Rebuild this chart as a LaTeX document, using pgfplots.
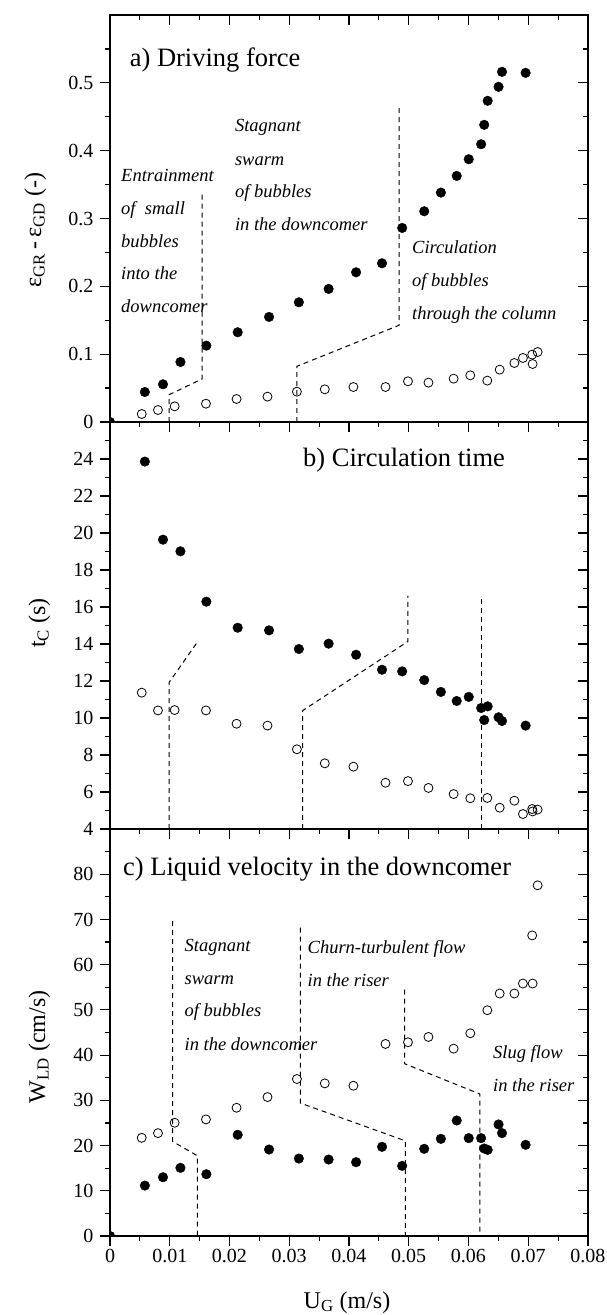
\documentclass[border=0pt]{standalone}
\usepackage{fontspec}
\setmainfont{Liberation Serif}
\usepackage{pgfplots}
\pgfplotsset{compat=1.18}
\newcommand{\tickfont}{\fontsize{20}{23}\selectfont}
\newcommand{\labfont}{\fontsize{24}{28}\selectfont}
\newcommand{\titfont}{\fontsize{26.5}{30}\selectfont}
\newcommand{\annfont}{\itshape\fontsize{18.5}{22}\selectfont}
\pgfplotsset{
  base/.style={width=478pt, height=407pt, scale only axis, xmin=0, xmax=0.08,
    clip marker paths=true,
    axis line style={line width=1.2pt},
    major tick length=10pt, minor tick length=5pt,
    tick style={line width=1.2pt, black},
    xtick={0,0.01,0.02,0.03,0.04,0.05,0.06,0.07,0.08},
    minor xtick={0.005,0.015,0.025,0.035,0.045,0.055,0.065,0.075},
    tick label style={font=\tickfont},
    yticklabel style={inner sep=2.5pt, xshift=-4pt},
    scaled ticks=false},
  main/.style={base, tick align=outside, xtick pos=left, ytick pos=left},
  over/.style={base, tick align=inside, xtick pos=right, ytick pos=right,
    xticklabels={}, yticklabels={}},
  fil/.style={only marks, mark=*, mark size=4.8pt, black},
  opn/.style={only marks, mark=o, mark size=4.5pt, black, mark options={line width=0.8pt}},
  dsh/.style={black, line width=1pt, dash pattern=on 5pt off 4pt, no marks},
}
\begin{document}
\begin{tikzpicture}[x=1pt,y=1pt]
\path[use as bounding box] (0,0) rectangle (607,-1315);

% ---------- panel a
\begin{axis}[main, at={(110pt,-15pt)}, anchor=north west, ymin=0, ymax=0.6,
  ytick={0,0.1,0.2,0.3,0.4,0.5}, yticklabels={0,0.1,0.2,0.3,0.4,0.5},
  minor ytick={0.05,0.15,0.25,0.35,0.45,0.55}, xticklabels={}]
\addplot[fil] coordinates {(0,0) (0.00583,0.0442) (0.00887,0.0556) (0.01179,0.0885) (0.01613,0.1126)
 (0.02137,0.1323) (0.02662,0.1549) (0.03161,0.1765) (0.03659,0.1962) (0.04119,0.2207) (0.04553,0.2340)
 (0.0489,0.2861) (0.05259,0.3107) (0.05538,0.3382) (0.05803,0.3628) (0.06004,0.3874) (0.06211,0.4095)
 (0.06263,0.4381) (0.06321,0.4735) (0.06503,0.4941) (0.06561,0.5162) (0.06956,0.5147)};
\addplot[opn] coordinates {(0.00531,0.0118) (0.00803,0.0177) (0.01082,0.0231) (0.01606,0.0270)
 (0.02118,0.0339) (0.02636,0.0374) (0.03128,0.0447) (0.03595,0.0482) (0.04074,0.0516) (0.04611,0.0516)
 (0.04987,0.0600) (0.0533,0.0580) (0.05751,0.0639) (0.0603,0.0688) (0.06315,0.0610) (0.06522,0.0772)
 (0.06768,0.0870) (0.06911,0.0944) (0.07066,0.0993) (0.07073,0.0855) (0.07157,0.1032)};
\addplot[dsh] coordinates {(0.0099,0) (0.0099,0.0403) (0.0154,0.0634) (0.0154,0.339)};
\addplot[dsh] coordinates {(0.03128,0) (0.03128,0.0821) (0.04838,0.1426) (0.04838,0.4656)};
\end{axis}
\begin{axis}[over, at={(110pt,-15pt)}, anchor=north west, ymin=0, ymax=0.6,
  ytick={0,0.1,0.2,0.3,0.4,0.5}, minor ytick={0.05,0.15,0.25,0.35,0.45,0.55}]
\end{axis}

% ---------- panel b
\begin{axis}[main, at={(110pt,-422pt)}, anchor=north west, ymin=4, ymax=26,
  ytick={4,6,8,10,12,14,16,18,20,22,24}, yticklabels={4,6,8,10,12,14,16,18,20,22,24},
  minor ytick={5,7,9,11,13,15,17,19,21,23,25}, xticklabels={}]
\addplot[fil] coordinates {(0.00583,23.86) (0.00887,19.64) (0.01179,19.01) (0.01613,16.29) (0.02137,14.88)
 (0.02662,14.74) (0.03161,13.73) (0.03659,14.02) (0.04119,13.42) (0.04553,12.61) (0.0489,12.52)
 (0.05259,12.05) (0.05538,11.41) (0.05803,10.92) (0.06004,11.14) (0.06211,10.54) (0.06263,9.89)
 (0.06321,10.63) (0.06503,10.04) (0.06561,9.84) (0.06956,9.59)};
\addplot[opn] coordinates {(0.00531,11.37) (0.00803,10.41) (0.01082,10.43) (0.01606,10.41) (0.02118,9.69)
 (0.02636,9.59) (0.03128,8.31) (0.03595,7.55) (0.04074,7.37) (0.04611,6.50) (0.04987,6.59) (0.0533,6.22)
 (0.05751,5.89) (0.0603,5.66) (0.06315,5.68) (0.06522,5.15) (0.06768,5.53) (0.06911,4.81) (0.07066,5.08)
 (0.07073,4.95) (0.07157,5.05)};
\addplot[dsh] coordinates {(0.0099,4) (0.0099,11.93) (0.0147,14.14)};
\addplot[dsh] coordinates {(0.03225,4) (0.03225,10.40) (0.04987,14.14) (0.04987,16.61)};
\addplot[dsh] coordinates {(0.06218,4) (0.06218,16.61)};
\end{axis}
\begin{axis}[over, at={(110pt,-422pt)}, anchor=north west, ymin=4, ymax=26,
  ytick={4,6,8,10,12,14,16,18,20,22,24}, minor ytick={5,7,9,11,13,15,17,19,21,23,25}]
\end{axis}

% ---------- panel c
\begin{axis}[main, at={(110pt,-829pt)}, anchor=north west, ymin=0, ymax=90,
  ytick={0,10,20,30,40,50,60,70,80}, yticklabels={0,10,20,30,40,50,60,70,80},
  minor ytick={5,15,25,35,45,55,65,75,85},
  xticklabels={0,0.01,0.02,0.03,0.04,0.05,0.06,0.07,0.08}]
\addplot[opn] coordinates {(0.00531,21.71) (0.00803,22.75) (0.01082,25.04) (0.01606,25.78) (0.02118,28.36)
 (0.02636,30.72) (0.03128,34.71) (0.03595,33.75) (0.04074,33.23) (0.04611,42.47) (0.04987,42.84)
 (0.0533,44.02) (0.05751,41.43) (0.0603,44.83) (0.06315,49.93) (0.06522,53.62) (0.06768,53.62)
 (0.06911,55.83) (0.07073,55.83) (0.07066,66.47) (0.07157,77.55)};
\addplot[fil] coordinates {(0,0) (0.00583,11.15) (0.00887,13.0) (0.01179,15.07) (0.01613,13.66)
 (0.02137,22.38) (0.02662,19.13) (0.03161,17.13) (0.03659,16.91) (0.04119,16.32) (0.04553,19.72)
 (0.0489,15.51) (0.05259,19.28) (0.05538,21.49) (0.05803,25.55) (0.06004,21.64) (0.06211,21.64)
 (0.06263,19.35) (0.06321,19.05) (0.06503,24.67) (0.06561,22.75) (0.06956,20.16)};
\addplot[dsh] coordinates {(0.01049,69.65) (0.01049,20.9) (0.01464,17.73) (0.01464,0)};
\addplot[dsh] coordinates {(0.03187,68.17) (0.03187,29.39) (0.04942,21.05) (0.04942,0)};
\addplot[dsh] coordinates {(0.04929,54.5) (0.04929,38.11) (0.06192,31.39) (0.06192,0)};
\end{axis}
\begin{axis}[over, at={(110pt,-829pt)}, anchor=north west, ymin=0, ymax=90,
  ytick={0,10,20,30,40,50,60,70,80}, minor ytick={5,15,25,35,45,55,65,75,85}]
\end{axis}

% ---------- texts
\tikzset{bw/.style={anchor=base west, inner sep=0pt}}
\node[bw, font=\titfont] at (129.6,-66) {a) Driving force};
\node[bw, font=\titfont] at (303,-466.7) {b) Circulation time};
\node[bw, font=\titfont] at (123,-875) {c) Liquid velocity in the downcomer};

\node[bw, font=\annfont] at (121,-181.7) {Entrainment};
\node[bw, font=\annfont] at (121,-214.3) {of~ small};
\node[bw, font=\annfont] at (121,-247) {bubbles};
\node[bw, font=\annfont] at (121,-279.7) {into the};
\node[bw, font=\annfont] at (121,-312.5) {downcomer};

\node[bw, font=\annfont] at (234.8,-131.7) {Stagnant};
\node[bw, font=\annfont] at (234.8,-165) {swarm};
\node[bw, font=\annfont] at (234.8,-197) {of bubbles};
\node[bw, font=\annfont] at (234.8,-230.7) {in the downcomer};

\node[bw, font=\annfont] at (412,-253.3) {Circulation};
\node[bw, font=\annfont] at (412,-286) {of bubbles};
\node[bw, font=\annfont] at (412,-319.3) {through the column};

\node[bw, font=\annfont] at (184.5,-951.7) {Stagnant};
\node[bw, font=\annfont] at (184.5,-984) {swarm};
\node[bw, font=\annfont] at (184.5,-1016.7) {of bubbles};
\node[bw, font=\annfont] at (184.5,-1050) {in the downcomer};

\node[bw, font=\annfont] at (307.5,-953.3) {Churn-turbulent flow};
\node[bw, font=\annfont] at (307.5,-986.7) {in the riser};

\node[bw, font=\annfont] at (493,-1058) {Slug flow};
\node[bw, font=\annfont] at (493,-1091.7) {in the riser};

% axis labels
\node[anchor=base, inner sep=0pt, rotate=90, font=\labfont] at (41,-230) {ε\textsubscript{GR}\,-\,ε\textsubscript{GD} (-)};
\node[anchor=base, inner sep=0pt, rotate=90, font=\labfont] at (45,-623) {t\textsubscript{C} (s)};
\node[anchor=base, inner sep=0pt, rotate=90, font=\labfont] at (45,-1047) {W\textsubscript{LD} (cm/s)};
\node[anchor=base, inner sep=0pt, font=\labfont] at (347,-1308) {U\textsubscript{G} (m/s)};
\end{tikzpicture}
\end{document}
